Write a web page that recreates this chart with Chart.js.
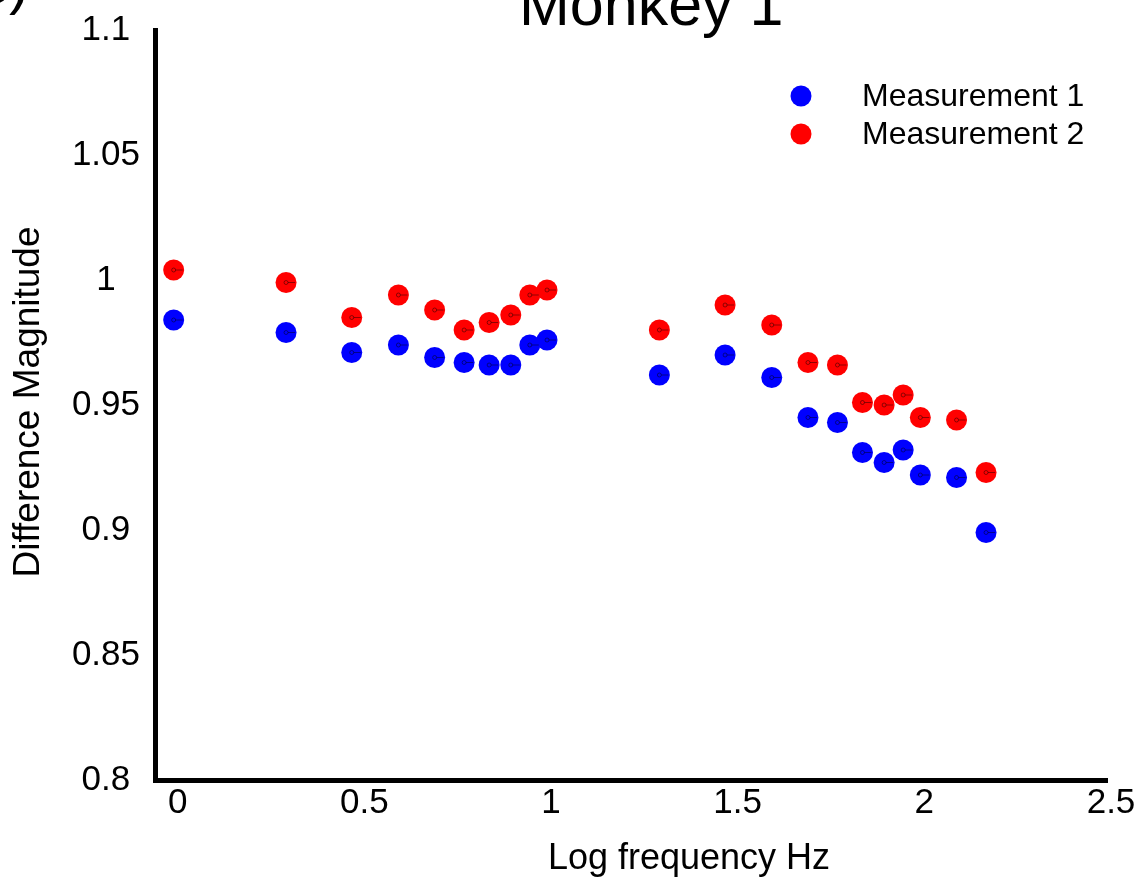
<!DOCTYPE html>
<html>
<head>
<meta charset="utf-8">
<script src="https://cdn.jsdelivr.net/npm/chart.js@4.4.1/dist/chart.umd.min.js"></script>
<style>
  html, body { margin: 0; padding: 0; background: #fff; }
</style>
</head>
<body>
<canvas id="chart" width="1148" height="882"></canvas>
<script>
// log10 of stimulus frequency (Hz)
const logFreq = [0, 0.301, 0.477, 0.602, 0.699, 0.778, 0.845, 0.903, 0.954, 1.0,
                 1.301, 1.477, 1.602, 1.699, 1.778, 1.845, 1.903, 1.954, 2.0, 2.097, 2.176];

const measurement1 = [0.984, 0.979, 0.971, 0.974, 0.969, 0.967, 0.966, 0.966, 0.974, 0.976,
                      0.962, 0.970, 0.961, 0.945, 0.943, 0.931, 0.927, 0.932, 0.922, 0.921, 0.899];

const measurement2 = [1.004, 0.999, 0.985, 0.994, 0.988, 0.980, 0.983, 0.986, 0.994, 0.996,
                      0.980, 0.990, 0.982, 0.967, 0.966, 0.951, 0.950, 0.954, 0.945, 0.944, 0.923];

const seriesLabels = ['Measurement 1', 'Measurement 2'];
const seriesColors = ['#0000ff', '#ff0000'];

const xTicks = [0, 0.5, 1, 1.5, 2, 2.5];
const xTickLabels = ['0', '0.5', '1', '1.5', '2', '2.5'];
const yTicks = [0.8, 0.85, 0.9, 0.95, 1, 1.05, 1.1];
const yTickLabels = ['0.8', '0.85', '0.9', '0.95', '1', '1.05', '1.1'];

const FONT = '"Liberation Sans", Arial, sans-serif';

function toPoints(xs, ys) {
    return xs.map((x, i) => ({ x: x, y: ys[i] }));
}

// Titles, legend and the little marker glyphs drawn on top of the chart
const decorations = {
    id: 'decorations',
    afterDatasetsDraw(chart) {
        const ctx = chart.ctx;
        // small "o" inside each marker, as in the exported figure
        chart.data.datasets.forEach((ds, i) => {
            chart.getDatasetMeta(i).data.forEach(pt => {
                ctx.save();
                ctx.strokeStyle = 'rgba(0,0,0,0.55)';
                ctx.lineWidth = 0.8;
                ctx.beginPath();
                ctx.arc(pt.x, pt.y, 2, 0, Math.PI * 2);
                ctx.moveTo(pt.x + 2, pt.y);
                ctx.lineTo(pt.x + 9, pt.y);
                ctx.stroke();
                ctx.restore();
            });
        });
    },
    afterDraw(chart) {
        const ctx = chart.ctx;
        ctx.save();
        ctx.fillStyle = '#000';

        // panel letter, mostly cut off at the top-left
        ctx.font = '60px ' + FONT;
        ctx.textAlign = 'right';
        ctx.textBaseline = 'alphabetic';
        ctx.fillText('c)', 29, 3);

        // chart title, cut off at the top
        ctx.font = '61px ' + FONT;
        ctx.textAlign = 'left';
        ctx.fillText('Monkey 1', 519, 25);

        // x axis title
        ctx.font = '36px ' + FONT;
        ctx.textAlign = 'center';
        ctx.fillText('Log frequency Hz', 689, 869);

        // y axis title
        ctx.save();
        ctx.font = '37px ' + FONT;
        ctx.translate(29, 402);
        ctx.rotate(-Math.PI / 2);
        ctx.textBaseline = 'middle';
        ctx.fillText('Difference Magnitude', 0, 0);
        ctx.restore();

        // legend
        const legendY = [96, 134];
        ctx.font = '32px ' + FONT;
        ctx.textAlign = 'left';
        ctx.textBaseline = 'middle';
        chart.data.datasets.forEach((ds, i) => {
            ctx.fillStyle = ds.backgroundColor;
            ctx.beginPath();
            ctx.arc(801, legendY[i], 10.5, 0, Math.PI * 2);
            ctx.fill();
            ctx.fillStyle = '#000';
            ctx.fillText(ds.label, 862, legendY[i] + 1.5);
        });
        ctx.restore();
    }
};

new Chart(document.getElementById('chart').getContext('2d'), {
    type: 'scatter',
    data: {
        datasets: [
            {
                label: seriesLabels[0],
                data: toPoints(logFreq, measurement1),
                backgroundColor: seriesColors[0],
                borderWidth: 0,
                pointRadius: 10.5,
                pointHoverRadius: 10.5
            },
            {
                label: seriesLabels[1],
                data: toPoints(logFreq, measurement2),
                backgroundColor: seriesColors[1],
                borderWidth: 0,
                pointRadius: 10.5,
                pointHoverRadius: 10.5
            }
        ]
    },
    options: {
        responsive: false,
        animation: false,
        events: [],
        layout: {
            padding: { top: 30, right: 41, left: 0, bottom: 0 }
        },
        plugins: {
            legend: { display: false },
            tooltip: { enabled: false },
            title: { display: false }
        },
        scales: {
            x: {
                type: 'linear',
                min: -0.05,
                max: 2.5,
                afterBuildTicks: scale => {
                    scale.ticks = xTicks.map(v => ({ value: v }));
                },
                afterFit: scale => {
                    scale.height = 102;
                    scale.paddingLeft = 0;
                    scale.paddingRight = 0;
                },
                grid: { display: false, drawTicks: false },
                border: { display: true, color: '#000', width: 5 },
                ticks: {
                    color: '#000',
                    padding: 2,
                    labelOffset: 4,
                    maxRotation: 0,
                    font: { family: FONT, size: 35 },
                    callback: (value, index) => xTickLabels[index]
                }
            },
            y: {
                type: 'linear',
                min: 0.8,
                max: 1.1,
                afterBuildTicks: scale => {
                    scale.ticks = yTicks.map(v => ({ value: v }));
                },
                afterFit: scale => {
                    scale.width = 155;
                    scale.paddingTop = 0;
                    scale.paddingBottom = 0;
                },
                grid: { display: false, drawTicks: false },
                border: { display: true, color: '#000', width: 5 },
                ticks: {
                    color: '#000',
                    padding: 15,
                    crossAlign: 'center',
                    font: { family: FONT, size: 35 },
                    callback: (value, index) => yTickLabels[index]
                }
            }
        }
    },
    plugins: [decorations]
});
</script>
</body>
</html>
